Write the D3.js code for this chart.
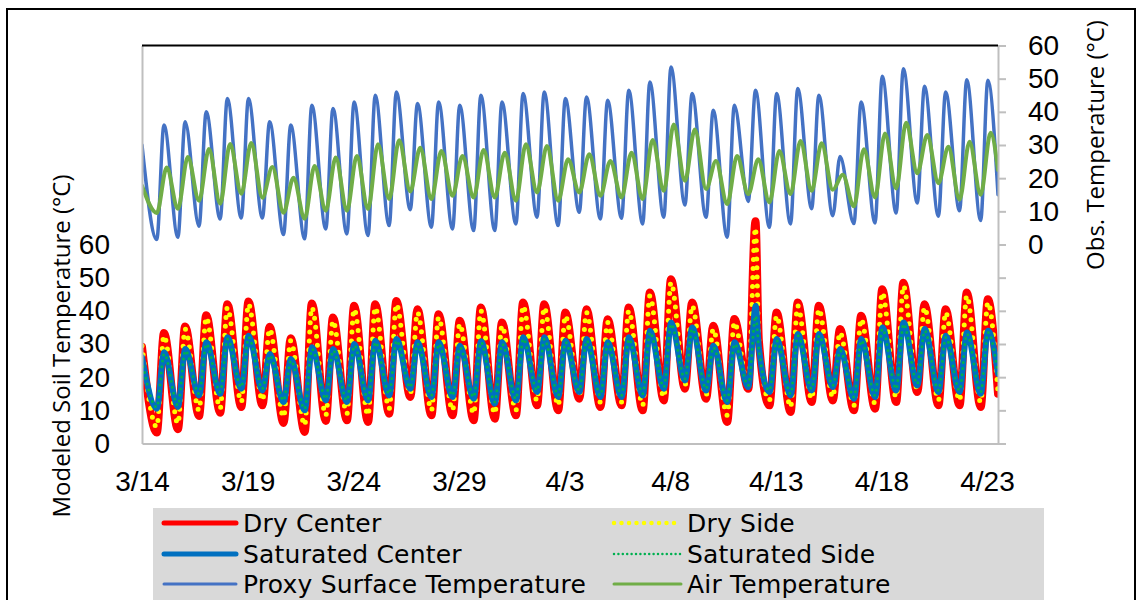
<!DOCTYPE html>
<html><head><meta charset="utf-8">
<script src="https://cdn.jsdelivr.net/npm/d3@7"></script>
<style>html,body{margin:0;padding:0;background:#fff;overflow:hidden;} svg{display:block;}</style>
</head><body><svg id="c" width="1138" height="600"></svg>
<script>
// ---------- data ----------
const dateLabels = ["3/14","3/19","3/24","3/29","4/3","4/8","4/13","4/18","4/23"];
const dateTicks  = [0,5,10,15,20,25,30,35,40];          // days after 3/14
const soilTickValues = [0,10,20,30,40,50,60];
const obsTickValues  = [-60,-50,-40,-30,-20,-10,0,10,20,30,40,50,60];
const seriesNames = ["Dry Center","Dry Side","Saturated Center","Saturated Side","Proxy Surface Temperature","Air Temperature"];

// daily maxima (index 0 = value at start of record) and daily minima (last = value at end of record), °C
const dryCenterPeak = [29.2,33.3,35.3,38.7,42,42.8,35.2,31.7,42.2,38,41.5,42,43,40.5,39,37,41,36.5,42.5,42,39.5,40.5,37.5,41,45.5,49.5,42.5,35.5,37.5,67,39.5,42.5,41.5,34.5,38.5,46.5,48.5,42,40.5,45.5,43.5];
const dryCenterLow  = [3.3,4.3,8.3,9.3,11,11.5,6.2,3.5,6.8,7,6.5,9,14,8.5,8.5,7,7.5,8.5,11.5,10,13.5,11,11.5,10,13,16.5,13.5,6.5,16.5,11.5,9.5,12.5,13,10,10.5,12.5,15.5,11.5,11.5,11,15];
const drySidePeak   = [29.5,32.5,34.5,38,41,42,34.5,31,41,37,40.5,41,42,39.5,38,36,40,35.5,41.5,41,38.5,39.5,36.5,40,44.5,48.5,41.5,34.5,36.5,65,38.5,41.5,40.5,33.5,37.5,45.5,47.5,41,39.5,44.5,42.5];
const drySideLow    = [5,6,10,10.5,12.5,13,8,5.5,8.5,9,8.5,10.5,15,10,10,9,9,10,13,11.5,14.5,12.5,12.5,11.5,14,17.5,14.5,8.5,17,13,11,13.5,14,11.5,12,14,16.5,13,13,12.5,15.5];
const satCenterPeak = [26,27.5,28.5,30.5,32,32.5,27,25.5,29,28.5,30,31,31.5,30.5,30.5,29.5,30.8,30.5,32,32,31,31.5,30.5,32,34,36.5,35,29.5,30.5,41.5,31.5,33,33,28.5,31.5,35,36.5,34.5,32.5,33.5,34];
const satCenterLow  = [10.5,11,14.5,15,16.5,16,12.5,10,13,12.5,13,14.5,16.5,14,14,13.5,12,13,15.5,14,15.5,14,14,14.5,16.5,19,16,12.5,17,15.5,14.5,16,17,13.5,14,16,17.5,15.5,15.5,15,21];
const satSidePeak   = [25,27,28,30,31.5,32,26.5,25,28.5,28,29.5,30.5,31,30,30,29,30.5,30,31.5,31.5,30.5,31,30,31.5,33.5,36,34.5,29,30,38.5,31,32.5,32.5,28,31,34.5,36,34,32,33,33.5];
const satSideLow    = [11,11.5,15,15.5,17,16.5,13,10.5,13.5,13,13.5,15,17,14.5,14.5,14,12.5,13.5,16,14.5,16,14.5,14.5,15,17,19.5,16.5,13,17.5,16,15,16.5,17.5,14,14.5,16.5,18,16,16,15.5,21];
const proxyPeak     = [30,36,37,40,44,44,37,36,42,41,43,45,46,42.5,43,42,45,43,45.5,46,44,44.5,43.5,46.5,49,53.5,45.5,40.5,42,46.5,45.5,47,45,26.5,43,50.7,53,47.7,46,49.7,49.5];
const proxyLow      = [1.5,2.2,5.5,7.7,8,8,3,1.7,4.7,3.2,2.7,5.7,10.5,5.2,4.7,4.2,4.2,6.2,8.2,5.7,9.7,7.7,7.9,6.2,8.2,11.9,8.2,2.2,13,5.2,6.2,10.8,8.7,6.3,6.5,9.5,12.5,8.5,10.2,7.2,15];
const airPeak       = [17.7,23.2,26.4,28.8,30.3,30.6,23.4,20.1,23.7,26.2,26.7,30.2,31.4,29.2,28.2,26.7,28.5,27.7,30.2,29.7,25.7,27.2,25.2,27.7,31.5,36.2,34.7,25.2,26.7,25.7,28.2,31.2,30.5,21,28.7,33.5,36.7,33,29.5,31,33.7];
const airLow        = [9.5,10.8,13.2,12.3,15.3,14.1,9.6,7.8,10.2,10.2,10.7,13.7,16,13.7,14.7,14.2,14.2,13.2,15.7,13.2,15.7,14.7,14.2,13.7,16.2,19.2,16.7,12.2,15.2,12.7,15.2,16.2,16.5,11.5,14.2,16.9,21.5,18.5,13.5,15,22.5];
// extra readings [day, °C] just after the 4/12 spike
const dryCenterExtra = [[29.2, 31]];
const drySideExtra   = [[29.2, 31]];
const satCenterExtra = [[29.2, 29]];
const satSideExtra   = [[29.2, 28.5]];

// ---------- layout ----------
const L = 142, R = 998, T = 45.5, B = 443.5;
const xMax = 40.52;
const FONT = "'Open Sans', 'DejaVu Sans', sans-serif";
const TICK_FONT = "'Liberation Sans', Arial, sans-serif";
const LEGEND_FONT = "'DejaVu Sans', 'Open Sans', sans-serif";

const svg = d3.select("#c");
const x = d3.scaleLinear().domain([0, xMax]).range([L, R]);
const ySoil = d3.scaleLinear().domain([0, 120]).range([B, T]);
const yObs  = d3.scaleLinear().domain([-60, 60]).range([B, T]);

// outer frame
svg.append("rect").attr("x", 7).attr("y", 9).attr("width", 1128).attr("height", 620)
  .attr("fill", "#fff").attr("stroke", "#000").attr("stroke-width", 2);

function toPoints(peaks, lows, peakOffset, extra) {
  const pts = [];
  for (let k = 0; k < peaks.length; k++) {
    pts.push([k === 0 ? 0 : k + peakOffset, peaks[k]]);
    pts.push([k < peaks.length - 1 ? k + 0.7 : xMax, lows[k]]);
  }
  (extra || []).forEach(p => pts.push(p));
  return pts.sort((a, b) => a[0] - b[0]);
}

svg.append("defs").append("clipPath").attr("id", "plotClip")
  .append("rect").attr("x", L).attr("y", T - 2).attr("width", R - L).attr("height", B - T + 4);

const series = [
  {name: seriesNames[0], pts: toPoints(dryCenterPeak, dryCenterLow, 0.04, dryCenterExtra), y: ySoil, color: "#FF0000", w: 8, dash: null},
  {name: seriesNames[1], pts: toPoints(drySidePeak, drySideLow, 0.04, drySideExtra), y: ySoil, color: "#FFFF00", w: 5, dash: "0 9"},
  {name: seriesNames[2], pts: toPoints(satCenterPeak, satCenterLow, 0.05, satCenterExtra), y: ySoil, color: "#0070C0", w: 6, dash: null},
  {name: seriesNames[3], pts: toPoints(satSidePeak, satSideLow, 0.05, satSideExtra), y: ySoil, color: "#00B050", w: 3, dash: "0 6"},
  {name: seriesNames[4], pts: toPoints(proxyPeak, proxyLow, 0.04), y: yObs, color: "#4472C4", w: 3.5, dash: null},
  {name: seriesNames[5], pts: toPoints(airPeak, airLow, 0.17), y: yObs, color: "#70AD47", w: 4, dash: null}
];

const gLines = svg.append("g").attr("clip-path", "url(#plotClip)");
series.forEach(s => {
  const line = d3.line().x(d => x(d[0])).y(d => s.y(d[1])).curve(d3.curveMonotoneX);
  gLines.append("path").attr("d", line(s.pts)).attr("fill", "none")
    .attr("stroke", s.color).attr("stroke-width", s.w)
    .attr("stroke-linecap", "round").attr("stroke-linejoin", "round")
    .attr("stroke-dasharray", s.dash);
});

// axes
const axisColor = "#BFBFBF";
const gx = svg.append("g").attr("transform", `translate(0,${B})`)
  .call(d3.axisBottom(x).tickValues(dateTicks).tickFormat((d, i) => dateLabels[i]).tickSize(0).tickPadding(28));
const gl = svg.append("g").attr("transform", `translate(${L},0)`)
  .call(d3.axisLeft(ySoil).tickValues(soilTickValues).tickSize(0).tickPadding(32));
const gr = svg.append("g").attr("transform", `translate(${R},0)`)
  .call(d3.axisRight(yObs).tickValues(obsTickValues).tickSize(8).tickSizeOuter(0).tickPadding(22)
    .tickFormat(d => d >= 0 ? d : ""));
[gx, gl, gr].forEach(g => {
  g.select(".domain").attr("stroke", axisColor).attr("stroke-width", 2);
  g.selectAll(".tick line").attr("stroke", axisColor).attr("stroke-width", 2);
  g.selectAll(".tick text").attr("fill", "#000").style("font-family", TICK_FONT).style("font-size", "28px");
});
// top border line of the plot
svg.append("line").attr("x1", L).attr("x2", R).attr("y1", T).attr("y2", T)
  .attr("stroke", "#000").attr("stroke-width", 2);

// axis titles
svg.append("text").attr("transform", `translate(60,346) rotate(-90)`)
  .attr("text-anchor", "middle").attr("dominant-baseline", "central")
  .style("font-family", FONT).style("font-size", "24px").attr("fill", "#000")
  .text("Modeled Soil Temperature (°C)");
svg.append("text").attr("transform", `translate(1094,145) rotate(-90)`)
  .attr("text-anchor", "middle").attr("dominant-baseline", "central")
  .style("font-family", FONT).style("font-size", "24px").attr("fill", "#000")
  .text("Obs. Temperature (°C)");

// legend
svg.append("rect").attr("x", 153).attr("y", 508).attr("width", 891).attr("height", 100).attr("fill", "#D9D9D9");
const legendPos = [
  {col: 0, row: 0, sw: 5}, {col: 1, row: 0, sw: 4.5, dash: "0 7.5"},
  {col: 0, row: 1, sw: 5}, {col: 1, row: 1, sw: 2.5, dash: "0 4.4"},
  {col: 0, row: 2, sw: 3}, {col: 1, row: 2, sw: 3}
];
const colX = [{x1: 164, x2: 236, tx: 243}, {x1: 614, x2: 681, tx: 687}];
const rowY = [532, 563, 593];
series.forEach((s, i) => {
  const p = legendPos[i], c = colX[p.col], yb = rowY[p.row];
  svg.append("line").attr("x1", c.x1).attr("x2", c.x2).attr("y1", yb - 9).attr("y2", yb - 9)
    .attr("stroke", s.color).attr("stroke-width", p.sw).attr("stroke-linecap", "round")
    .attr("stroke-dasharray", p.dash || null);
  svg.append("text").attr("x", c.tx).attr("y", yb)
    .style("font-family", LEGEND_FONT).style("font-size", "25px").style("letter-spacing", "0.2px")
    .attr("fill", "#000").text(s.name);
});
</script>
</body></html>
